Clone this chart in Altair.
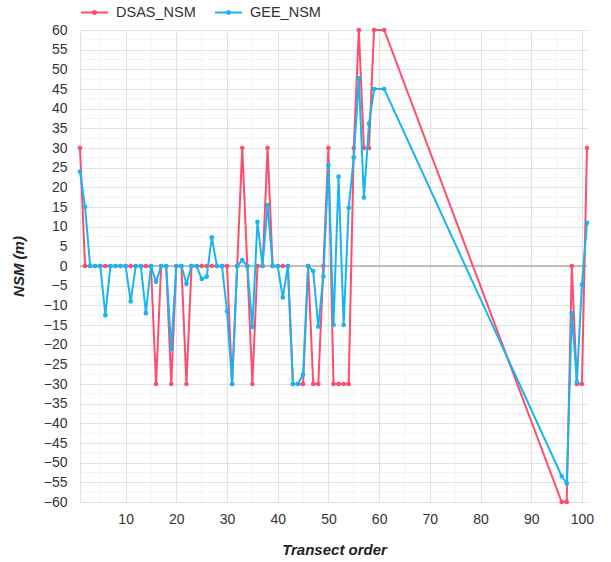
import altair as alt
import pandas as pd

transect = list(range(1, 60)) + [61, 96, 97, 98, 99, 100, 101]
dsas_nsm = [30, 0, 0, 0, 0, 0, 0, 0, 0, 0,
            0, 0, 0, 0, 0, -30, 0, 0, -30, 0,
            0, -30, 0, 0, 0, 0, 0, 0, 0, 0,
            -30, 0, 30, 0, -30, 0, 0, 30, 0, 0,
            0, 0, -30, -30, -30, 0, -30, -30, 0, 30,
            -30, -30, -30, -30, 30, 60, 30, 30, 60,
            60, -60, -60, 0, -30, -30, 30]
gee_nsm = [24, 15, 0, 0, 0, -12.5, 0, 0, 0, 0,
           -9, 0, 0, -12, 0, -4, 0, 0, -21, 0,
           0, -4.5, 0, 0, -3.3, -2.7, 7.3, 0, 0, -11.5,
           -30, 0, 1.5, 0, -15.5, 11.2, 0, 15.5, 0, 0,
           -8, 0, -30, -30, -27.6, 0, -1.3, -15.4, -2.7, 25.7,
           -15, 22.7, -15, 14.8, 27.6, 47.7, 17.4, 36.2, 45,
           45, -53.4, -55.3, -12, -29.5, -4.7, 11]
series_names = ["DSAS_NSM", "GEE_NSM"]
series_colors = ["#FF4D6D", "#19B4F2"]
x_major = [10, 20, 30, 40, 50, 60, 70, 80, 90, 100]
x_minor = [5, 15, 25, 35, 45, 55, 65, 75, 85, 95]
y_major = [-60, -55, -50, -45, -40, -35, -30, -25, -20, -15, -10, -5, 0,
           5, 10, 15, 20, 25, 30, 35, 40, 45, 50, 55, 60]
y_minor = [-57.5, -52.5, -47.5, -42.5, -37.5, -32.5, -27.5, -22.5, -17.5, -12.5,
           -7.5, -2.5, 2.5, 7.5, 12.5, 17.5, 22.5, 27.5, 32.5, 37.5, 42.5, 47.5,
           52.5, 57.5]
zero_line = [0]

df = pd.DataFrame({"Transect": transect, "DSAS_NSM": dsas_nsm, "GEE_NSM": gee_nsm})

FONT = "Liberation Sans"
xscale = alt.Scale(domain=[1, 101], nice=False, zero=False)
yscale = alt.Scale(domain=[-60, 60], nice=False, zero=False)

x_axis = alt.Axis(values=x_major, grid=True, gridColor="#e2e2e2", ticks=False,
                  domainColor="#e2e2e2", labelFont=FONT, labelFontSize=14,
                  labelColor="#333333", labelPadding=10,
                  titleFont=FONT, titleFontSize=15, titleFontWeight="bold",
                  titleFontStyle="italic", titleColor="#222222",
                  titleX=254, titleY=47, titleBaseline="middle",
                  titleAlign="center")
y_axis = alt.Axis(values=y_major, grid=True, gridColor="#e2e2e2", ticks=False,
                  domainColor="#e2e2e2", labelFont=FONT, labelFontSize=14,
                  labelColor="#333333", labelPadding=13,
                  titleFont=FONT, titleFontSize=15, titleFontWeight="bold",
                  titleFontStyle="italic", titleColor="#222222",
                  titleX=-62, titleY=236, titleAngle=270,
                  titleBaseline="middle", titleAlign="center")

x_enc = alt.X("Transect:Q", scale=xscale, title="Transect order", axis=x_axis)
y_enc = alt.Y("value:Q", scale=yscale, title="NSM (m)", axis=y_axis)
color_enc = alt.Color("series:N",
                      scale=alt.Scale(domain=series_names, range=series_colors),
                      legend=alt.Legend(title=None, orient="none", legendX=0, legendY=-32,
                                        direction="horizontal",
                                        symbolType="M-1,0L1,0M-0.12,0a0.12,0.12 0 1,0 0.24,0a0.12,0.12 0 1,0 -0.24,0",
                                        symbolSize=729, symbolStrokeWidth=2,
                                        labelFont=FONT, labelFontSize=14.5,
                                        labelColor="#333333", labelOffset=7,
                                        columnPadding=15))

base = alt.Chart(df).transform_fold(series_names, as_=["series", "value"])

red = base.transform_filter(alt.datum.series == "DSAS_NSM").mark_line(
    strokeWidth=2, point=alt.OverlayMarkDef(filled=True, size=22)
).encode(x=x_enc, y=y_enc, color=color_enc)
blue = base.transform_filter(alt.datum.series == "GEE_NSM").mark_line(
    strokeWidth=2, point=alt.OverlayMarkDef(filled=True, size=22)
).encode(x=x_enc, y=y_enc, color=color_enc)

minor_x = alt.Chart(pd.DataFrame({"Transect": x_minor})).mark_rule(
    color="#f2f2f2", strokeWidth=1).encode(
    x=alt.X("Transect:Q", scale=xscale, title="Transect order", axis=x_axis))
minor_y = alt.Chart(pd.DataFrame({"value": y_minor})).mark_rule(
    color="#f2f2f2", strokeWidth=1).encode(
    y=alt.Y("value:Q", scale=yscale, title="NSM (m)", axis=y_axis))
zero = alt.Chart(pd.DataFrame({"value": zero_line})).mark_rule(
    color="#8a8a8a", strokeWidth=1).encode(
    y=alt.Y("value:Q", scale=yscale, title="NSM (m)", axis=y_axis))

chart = alt.layer(minor_x, minor_y, zero, red, blue).properties(
    width=507, height=472,
    autosize=alt.AutoSizeParams(type="none"),
    padding={"left": 80, "top": 30, "right": 24, "bottom": 60},
    background="white",
).configure_view(stroke=None)

chart.save("out.html", embed_options={"renderer": "svg", "actions": False})
